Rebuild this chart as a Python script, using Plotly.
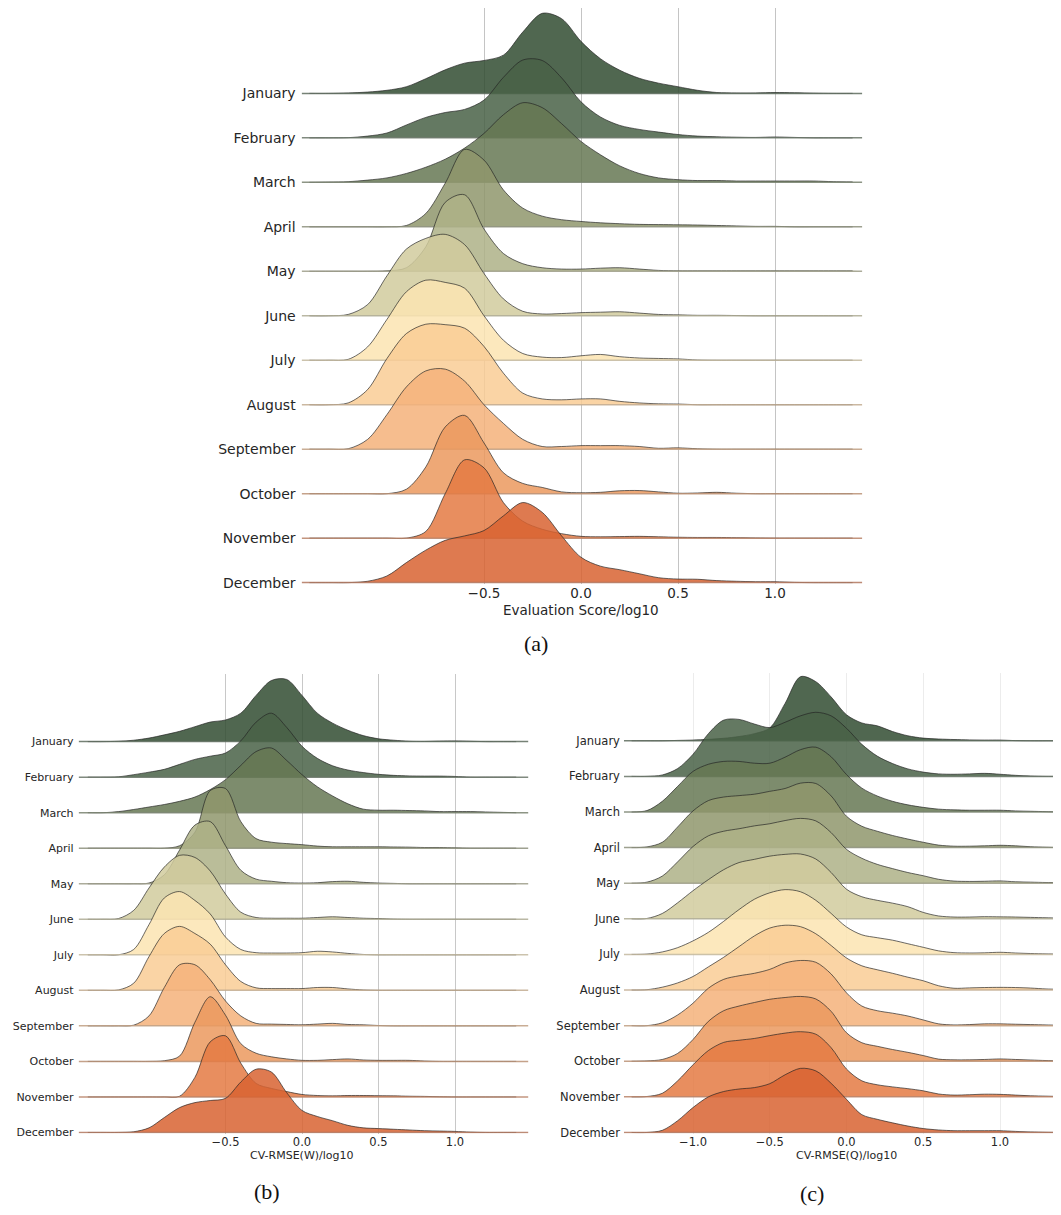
import plotly.graph_objects as go

# The page body has an 8px margin, so the figure is drawn 8px in from the
# window's top-left corner; pixel positions below are window positions.
PAGE_OFF = 8
W, H = 1061 - PAGE_OFF, 1215 - PAGE_OFF

months = ["January", "February", "March", "April", "May", "June", "July",
          "August", "September", "October", "November", "December"]

# common evaluation grid (log10 values)
x_grid = [-1.4, -1.3, -1.2, -1.1, -1.0, -0.9, -0.8, -0.7, -0.6, -0.5, -0.4, -0.3, -0.2, -0.1,
          0.0, 0.1, 0.2, 0.3, 0.4, 0.5, 0.6, 0.7, 0.8, 0.9, 1.0, 1.1, 1.2, 1.3, 1.4]

# ridge heights (in row units), one row per month
eval_score_density = [
    [0, 0, 0.01, 0.03, 0.07, 0.15, 0.33, 0.53, 0.68, 0.74, 0.86, 1.38, 1.80, 1.68, 1.17, 0.78, 0.52, 0.34, 0.23, 0.15, 0.07, 0.02, 0.01, 0.01, 0.02, 0.015, 0.005, 0, 0],
    [0, 0, 0.005, 0.04, 0.11, 0.29, 0.46, 0.57, 0.64, 0.85, 1.36, 1.75, 1.74, 1.35, 0.81, 0.47, 0.28, 0.19, 0.13, 0.075, 0.04, 0.025, 0.015, 0.01, 0.02, 0.01, 0, 0, 0],
    [0, 0.005, 0.015, 0.05, 0.1, 0.2, 0.34, 0.52, 0.77, 1.1, 1.52, 1.79, 1.68, 1.32, 0.92, 0.62, 0.37, 0.2, 0.1, 0.06, 0.04, 0.04, 0.03, 0.03, 0.03, 0.03, 0.03, 0.015, 0.01],
    [0, 0, 0, 0, 0, 0.03, 0.3, 0.98, 1.74, 1.5, 0.83, 0.42, 0.24, 0.16, 0.12, 0.09, 0.07, 0.055, 0.05, 0.045, 0.04, 0.03, 0.02, 0.01, 0.01, 0, 0, 0, 0],
    [0, 0, 0, 0, 0.01, 0.08, 0.55, 1.55, 1.72, 0.95, 0.4, 0.17, 0.08, 0.05, 0.05, 0.07, 0.08, 0.05, 0.02, 0.01, 0.01, 0.01, 0.01, 0.01, 0.01, 0.01, 0.01, 0.01, 0.01],
    [0, 0, 0.03, 0.25, 0.9, 1.5, 1.74, 1.83, 1.6, 0.95, 0.38, 0.1, 0.04, 0.05, 0.07, 0.08, 0.09, 0.06, 0.03, 0.02, 0.01, 0.01, 0.005, 0, 0, 0, 0, 0, 0],
    [0, 0, 0.02, 0.3, 0.92, 1.54, 1.8, 1.75, 1.62, 1.0, 0.45, 0.15, 0.07, 0.06, 0.1, 0.13, 0.08, 0.05, 0.04, 0.03, 0.005, 0, 0, 0, 0, 0, 0, 0, 0],
    [0, 0, 0.04, 0.34, 1.04, 1.6, 1.81, 1.8, 1.72, 1.31, 0.71, 0.26, 0.13, 0.11, 0.13, 0.13, 0.075, 0.04, 0.02, 0.015, 0, 0, 0, 0, 0, 0, 0, 0, 0],
    [0, 0, 0.01, 0.22, 0.78, 1.4, 1.76, 1.8, 1.53, 1.0, 0.58, 0.22, 0.06, 0.06, 0.08, 0.08, 0.08, 0.06, 0.02, 0.03, 0.01, 0, 0, 0, 0, 0, 0, 0, 0],
    [0, 0, 0, 0, 0, 0.1, 0.6, 1.5, 1.76, 1.14, 0.47, 0.23, 0.14, 0.04, 0.02, 0.03, 0.065, 0.07, 0.04, 0.01, 0.015, 0.03, 0.01, 0, 0, 0, 0, 0, 0],
    [0, 0, 0, 0, 0, 0, 0.15, 1.0, 1.76, 1.58, 0.8, 0.38, 0.2, 0.1, 0.04, 0.03, 0.035, 0.04, 0.03, 0.02, 0.015, 0.015, 0.01, 0.005, 0, 0, 0, 0, 0],
    [0, 0, 0, 0.03, 0.15, 0.45, 0.73, 0.95, 1.05, 1.17, 1.5, 1.8, 1.58, 1.05, 0.57, 0.37, 0.29, 0.2, 0.11, 0.08, 0.075, 0.045, 0.03, 0.02, 0.02, 0.005, 0, 0, 0],
]

cv_rmse_w_density = [
    [0, 0, 0.01, 0.04, 0.1, 0.19, 0.29, 0.42, 0.55, 0.61, 0.8, 1.3, 1.72, 1.75, 1.3, 0.8, 0.52, 0.32, 0.17, 0.08, 0.04, 0.01, 0.005, 0.015, 0.02, 0.01, 0, 0, 0],
    [0, 0, 0.01, 0.07, 0.14, 0.22, 0.36, 0.5, 0.59, 0.68, 1.02, 1.55, 1.8, 1.4, 0.87, 0.53, 0.32, 0.2, 0.13, 0.08, 0.05, 0.035, 0.03, 0.03, 0.02, 0, 0, 0, 0],
    [0, 0, 0.03, 0.09, 0.16, 0.23, 0.32, 0.44, 0.65, 0.93, 1.33, 1.72, 1.82, 1.47, 1.07, 0.73, 0.47, 0.25, 0.1, 0.07, 0.07, 0.06, 0.05, 0.03, 0.03, 0.03, 0.02, 0.01, 0],
    [0, 0, 0, 0, 0, 0, 0.07, 0.45, 1.62, 1.68, 0.75, 0.27, 0.17, 0.13, 0.1, 0.06, 0.04, 0.04, 0.04, 0.04, 0.035, 0.03, 0.02, 0.02, 0.01, 0, 0, 0, 0],
    [0, 0, 0, 0, 0.02, 0.25, 0.95, 1.65, 1.75, 1.07, 0.38, 0.13, 0.07, 0.03, 0.02, 0.03, 0.06, 0.07, 0.04, 0.02, 0.01, 0, 0, 0, 0, 0, 0, 0, 0],
    [0, 0, 0.02, 0.25, 0.88, 1.47, 1.8, 1.74, 1.36, 0.71, 0.2, 0.05, 0.03, 0.03, 0.03, 0.05, 0.07, 0.05, 0.03, 0.02, 0.005, 0, 0, 0, 0, 0, 0, 0, 0],
    [0, 0, 0, 0.15, 0.85, 1.6, 1.78, 1.53, 1.15, 0.5, 0.15, 0.06, 0.05, 0.05, 0.06, 0.1, 0.08, 0.04, 0.01, 0, 0, 0, 0, 0, 0, 0, 0, 0, 0],
    [0, 0, 0.01, 0.2, 0.95, 1.6, 1.8, 1.6, 1.3, 0.72, 0.25, 0.07, 0.05, 0.05, 0.05, 0.08, 0.08, 0.04, 0.01, 0, 0, 0, 0, 0, 0, 0, 0, 0, 0],
    [0, 0, 0, 0.02, 0.28, 1.08, 1.72, 1.72, 1.3, 0.7, 0.28, 0.07, 0.05, 0.04, 0.03, 0.05, 0.07, 0.04, 0.03, 0.01, 0, 0, 0, 0, 0, 0, 0, 0, 0],
    [0, 0, 0, 0, 0, 0.02, 0.15, 1.1, 1.82, 1.3, 0.5, 0.23, 0.13, 0.07, 0.03, 0.03, 0.05, 0.07, 0.04, 0.03, 0.03, 0.03, 0.01, 0, 0, 0, 0, 0, 0],
    [0, 0, 0, 0, 0, 0, 0.02, 0.55, 1.55, 1.72, 0.95, 0.38, 0.24, 0.15, 0.07, 0.04, 0.03, 0.04, 0.04, 0.035, 0.03, 0.02, 0.015, 0.005, 0, 0, 0, 0, 0],
    [0, 0, 0, 0.02, 0.13, 0.42, 0.7, 0.84, 0.9, 0.96, 1.42, 1.78, 1.7, 1.12, 0.62, 0.45, 0.33, 0.2, 0.13, 0.11, 0.09, 0.07, 0.05, 0.04, 0.03, 0.01, 0, 0, 0],
]

cv_rmse_q_density = [
    [0, 0, 0, 0.01, 0.02, 0.04, 0.07, 0.12, 0.2, 0.36, 1.05, 1.8, 1.66, 1.23, 0.73, 0.5, 0.42, 0.26, 0.14, 0.075, 0.05, 0.035, 0.025, 0.02, 0.02, 0.005, 0, 0, 0],
    [0, 0, 0.04, 0.22, 0.62, 1.2, 1.58, 1.6, 1.47, 1.37, 1.52, 1.7, 1.8, 1.7, 1.35, 0.9, 0.57, 0.36, 0.21, 0.12, 0.07, 0.06, 0.07, 0.085, 0.06, 0.03, 0.01, 0, 0],
    [0, 0.04, 0.3, 0.72, 1.14, 1.34, 1.42, 1.42, 1.37, 1.37, 1.54, 1.75, 1.82, 1.55, 1.05, 0.67, 0.45, 0.3, 0.2, 0.13, 0.08, 0.06, 0.05, 0.05, 0.05, 0.03, 0.02, 0.01, 0],
    [0, 0.02, 0.15, 0.58, 1.03, 1.32, 1.42, 1.46, 1.5, 1.58, 1.66, 1.81, 1.8, 1.45, 0.88, 0.6, 0.46, 0.34, 0.24, 0.15, 0.07, 0.04, 0.04, 0.05, 0.065, 0.05, 0.025, 0.01, 0],
    [0, 0.03, 0.2, 0.6, 1.03, 1.33, 1.46, 1.53, 1.61, 1.67, 1.76, 1.82, 1.75, 1.42, 0.95, 0.7, 0.53, 0.41, 0.3, 0.21, 0.11, 0.06, 0.05, 0.055, 0.065, 0.04, 0.03, 0.02, 0.02],
    [0, 0.01, 0.15, 0.45, 0.79, 1.1, 1.38, 1.58, 1.67, 1.76, 1.81, 1.82, 1.68, 1.3, 0.83, 0.62, 0.52, 0.44, 0.34, 0.18, 0.08, 0.05, 0.05, 0.06, 0.055, 0.05, 0.04, 0.03, 0.02],
    [0, 0.01, 0.07, 0.19, 0.38, 0.62, 0.93, 1.26, 1.55, 1.73, 1.82, 1.76, 1.52, 1.15, 0.77, 0.55, 0.47, 0.4, 0.3, 0.2, 0.1, 0.05, 0.04, 0.045, 0.06, 0.04, 0.025, 0.015, 0.01],
    [0, 0.01, 0.08, 0.2, 0.38, 0.65, 0.92, 1.22, 1.52, 1.74, 1.82, 1.78, 1.58, 1.25, 0.9, 0.68, 0.57, 0.47, 0.36, 0.26, 0.12, 0.05, 0.06, 0.07, 0.075, 0.07, 0.055, 0.03, 0.02],
    [0, 0, 0.08, 0.3, 0.63, 1.05, 1.3, 1.4, 1.47, 1.58, 1.76, 1.83, 1.78, 1.45, 0.92, 0.55, 0.42, 0.35, 0.27, 0.16, 0.05, 0.02, 0.03, 0.05, 0.05, 0.04, 0.03, 0.02, 0.01],
    [0, 0.01, 0.05, 0.22, 0.61, 1.12, 1.42, 1.55, 1.65, 1.74, 1.79, 1.82, 1.75, 1.4, 0.8, 0.52, 0.42, 0.33, 0.25, 0.16, 0.06, 0.04, 0.04, 0.05, 0.065, 0.05, 0.035, 0.02, 0.01],
    [0, 0.01, 0.1, 0.45, 0.9, 1.3, 1.53, 1.59, 1.64, 1.72, 1.79, 1.83, 1.76, 1.38, 0.78, 0.45, 0.34, 0.28, 0.23, 0.17, 0.08, 0.05, 0.06, 0.075, 0.07, 0.05, 0.03, 0.02, 0.01],
    [0, 0, 0.06, 0.33, 0.7, 1.0, 1.15, 1.22, 1.26, 1.37, 1.62, 1.8, 1.73, 1.38, 0.93, 0.5, 0.37, 0.27, 0.18, 0.11, 0.07, 0.05, 0.05, 0.05, 0.05, 0.03, 0.015, 0.005, 0],
]

ticks_ab = [-0.5, 0.0, 0.5, 1.0]
ticks_c = [-1.0, -0.5, 0.0, 0.5, 1.0]

month_colors = [(49, 76, 49), (73, 97, 70), (102, 120, 84), (143, 150, 108),
                (174, 177, 135), (209, 203, 157), (251, 228, 178), (249, 204, 149),
                (244, 178, 122), (235, 153, 94), (228, 122, 67), (216, 99, 49)]

FONT = "DejaVu Sans"
TXT = "#262626"


def fmt(v):
    s = f"{abs(v):.1f}"
    return ("\u2212" + s) if v < 0 else s


def px_x(p):
    return (p - PAGE_OFF) / W


def px_y(p):
    return 1 - (p - PAGE_OFF) / H


panels = [
    dict(name="", data=eval_score_density, ticks=ticks_ab, xr=[-1.44, 1.45],
         zero_px=581, unit_px=194, ytop_px=8, ybot_px=587.3, yr=[-0.03, 12.92],
         grid="#c4c4c4", lab_size=14, tick_size=13.5, standoff=5,
         title="Evaluation Score/log10", title_y=614, title_size=13.5),
    dict(name="2", data=cv_rmse_w_density, ticks=ticks_ab, xr=[-1.46, 1.48],
         zero_px=302, unit_px=153, ytop_px=678, ybot_px=1140.1, yr=[-0.03, 12.9],
         grid="#c8c8c8", lab_size=11, tick_size=11.5, standoff=4,
         title="CV-RMSE(W)/log10", title_y=1162, title_size=11),
    dict(name="3", data=cv_rmse_q_density, ticks=ticks_c, xr=[-1.45, 1.397],
         zero_px=846.5, unit_px=153.5, ytop_px=677, ybot_px=1140.1, yr=[-0.03, 12.9],
         grid="#ececec", lab_size=11.5, tick_size=11.5, standoff=3,
         title="CV-RMSE(Q)/log10", title_y=1162, title_size=11),
]

fig = go.Figure()
layout = dict(width=W, height=H, margin=dict(l=0, r=0, t=0, b=0),
              paper_bgcolor="white", plot_bgcolor="white", showlegend=False,
              hovermode=False, annotations=[])

n = len(months)
for P in panels:
    xa, ya = "x" + P["name"], "y" + P["name"]
    x0, x1 = P["xr"]
    for i, m in enumerate(months):
        off = n - 1 - i
        r, g, b = month_colors[i]
        # invisible baseline used as fill reference
        fig.add_trace(go.Scatter(x=[x0, x1], y=[off, off], mode="lines",
                                 line=dict(width=0, color="rgba(0,0,0,0)"),
                                 xaxis=xa, yaxis=ya, hoverinfo="skip"))
        fig.add_trace(go.Scatter(x=x_grid, y=[off + h for h in P["data"][i]], mode="lines",
                                 line=dict(color="rgba(35,35,35,0.85)", width=0.8,
                                           shape="spline", smoothing=0.9),
                                 fill="tonexty", fillcolor=f"rgba({r},{g},{b},0.85)",
                                 xaxis=xa, yaxis=ya, name=m))
        fig.add_trace(go.Scatter(x=[x0, x1], y=[off, off], mode="lines",
                                 line=dict(color=f"rgba({(r+140)//2},{(g+140)//2},{(b+140)//2},0.85)", width=1.5),
                                 xaxis=xa, yaxis=ya, hoverinfo="skip"))

    left_px = P["zero_px"] + x0 * P["unit_px"]
    right_px = P["zero_px"] + x1 * P["unit_px"]
    dom = [px_x(left_px), min(1.0, px_x(right_px))]
    xkey = "xaxis" + P["name"]
    ykey = "yaxis" + P["name"]
    layout[xkey] = dict(domain=dom, range=[x0, x1],
                        anchor=ya, showgrid=True, gridcolor=P["grid"], gridwidth=1,
                        zeroline=False, showline=False, ticks="",
                        tickvals=P["ticks"], ticktext=[fmt(v) for v in P["ticks"]],
                        tickfont=dict(family=FONT, size=P["tick_size"], color=TXT))
    layout[ykey] = dict(domain=[px_y(P["ybot_px"]), px_y(P["ytop_px"])], range=P["yr"],
                        anchor=xa, showgrid=False, zeroline=False, showline=False,
                        ticks="", tickvals=list(range(n - 1, -1, -1)), ticktext=months,
                        ticklabelstandoff=P["standoff"],
                        tickfont=dict(family=FONT, size=P["lab_size"], color=TXT))
    layout["annotations"].append(dict(
        text=P["title"], xref="paper", x=px_x(P["zero_px"]),
        y=px_y(P["title_y"]), yref="paper", showarrow=False, xanchor="center", yanchor="middle",
        font=dict(family=FONT, size=P["title_size"], color=TXT)))

captions = [("(a)", 536, 647), ("(b)", 267, 1198), ("(c)", 812, 1200)]
for t, cx, cy in captions:
    layout["annotations"].append(dict(text=t, x=px_x(cx), y=px_y(cy), xref="paper", yref="paper",
                                      showarrow=False, xanchor="center", yanchor="middle",
                                      font=dict(family="Liberation Serif", size=22, color="#111")))

fig.update_layout(**layout)
fig.write_html("out.html")
